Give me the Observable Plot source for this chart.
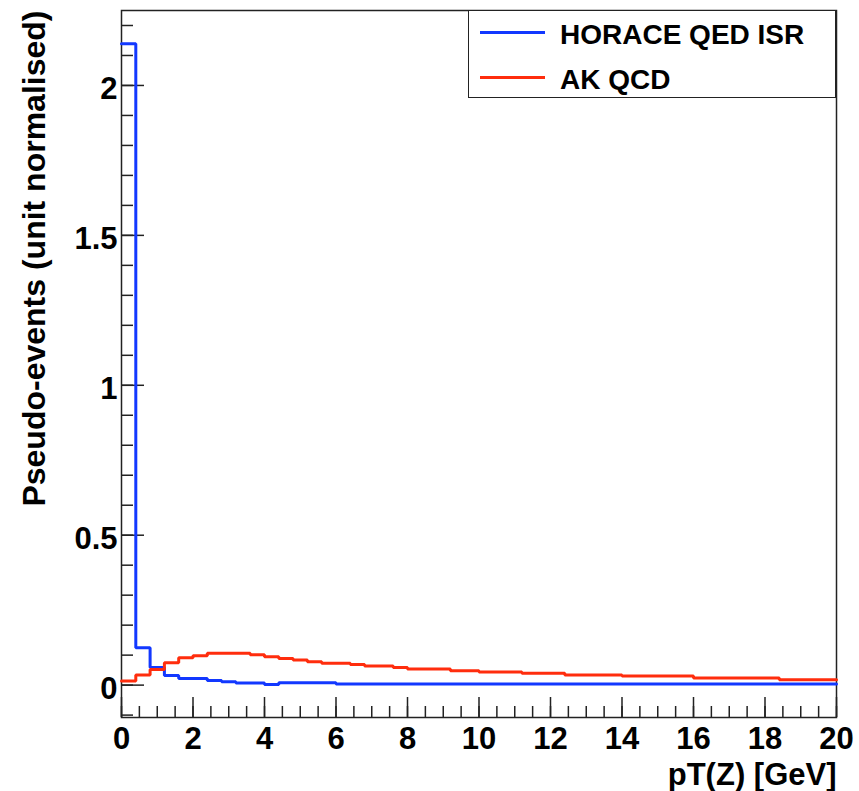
<!DOCTYPE html>
<html>
<head>
<meta charset="utf-8">
<script src="https://cdn.jsdelivr.net/npm/d3@7"></script>
<script src="https://cdn.jsdelivr.net/npm/@observablehq/plot@0.6"></script>
<style>
  html, body { margin: 0; padding: 0; background: #fff; }
  #wrap { position: relative; width: 859px; height: 791px; font-family: "Liberation Sans", Arial, sans-serif; font-weight: bold; }
  #legend { position: absolute; left: 468px; top: 10px; width: 368px; height: 88px; box-sizing: border-box; border: 1.5px solid #222; background: #fff; }
  .item { position: absolute; left: 0; height: 40px; display: flex; align-items: center; font-size: 28px; color: #000; white-space: nowrap; }
  .swatch { width: 65px; height: 3px; margin-left: 11px; margin-right: 15px; position: relative; top: -3px; }
</style>
</head>
<body>
<div id="wrap"></div>
<script>
// Bin edges (GeV), 50 bins of 0.4 GeV
const binEdges = [0, 0.4, 0.8, 1.2, 1.6, 2.0, 2.4, 2.8, 3.2, 3.6, 4.0, 4.4, 4.8, 5.2, 5.6, 6.0, 6.4, 6.8, 7.2, 7.6,
  8.0, 8.4, 8.8, 9.2, 9.6, 10.0, 10.4, 10.8, 11.2, 11.6, 12.0, 12.4, 12.8, 13.2, 13.6, 14.0, 14.4, 14.8, 15.2, 15.6,
  16.0, 16.4, 16.8, 17.2, 17.6, 18.0, 18.4, 18.8, 19.2, 19.6, 20.0];

// HORACE QED ISR bin contents
const horaceQedIsr = [2.139, 0.125, 0.059, 0.032, 0.022, 0.022, 0.015, 0.011, 0.007, 0.007,
  0.002, 0.0075, 0.0075, 0.0075, 0.0075, 0.004, 0.004, 0.004, 0.004, 0.004,
  0.004, 0.004, 0.004, 0.004, 0.004, 0.004, 0.004, 0.004, 0.004, 0.004,
  0.004, 0.004, 0.004, 0.004, 0.004, 0.004, 0.004, 0.004, 0.004, 0.004,
  0.004, 0.004, 0.004, 0.004, 0.004, 0.004, 0.004, 0.004, 0.004, 0.004];

// AK QCD bin contents
const akQcd = [0.014, 0.034, 0.052, 0.075, 0.091, 0.098, 0.106, 0.106, 0.106, 0.101,
  0.095, 0.089, 0.084, 0.078, 0.073, 0.073, 0.069, 0.064, 0.064, 0.059,
  0.054, 0.054, 0.054, 0.048, 0.048, 0.044, 0.044, 0.044, 0.040, 0.040,
  0.040, 0.034, 0.034, 0.034, 0.034, 0.030, 0.030, 0.030, 0.030, 0.030,
  0.024, 0.024, 0.024, 0.024, 0.024, 0.024, 0.018, 0.018, 0.018, 0.018];

const seriesNames = ["HORACE QED ISR", "AK QCD"];
const seriesColors = ["#1238ff", "#ff2d0d"];

const xTicks = [0, 2, 4, 6, 8, 10, 12, 14, 16, 18, 20];
const yTicks = [0, 0.5, 1, 1.5, 2];
const xMinorTicks = d3.range(0, 20.001, 0.5);
const yMinorTicks = d3.range(-1, 23).map(i => i / 10);

const xTitle = "pT(Z) [GeV]";
const yTitle = "Pseudo-events (unit normalised)";

function histRows(values, name) {
  const rows = values.map((v, i) => ({x: binEdges[i], y: v, series: name}));
  rows.push({x: binEdges[values.length], y: values[values.length - 1], series: name});
  return rows;
}
const rowsA = histRows(horaceQedIsr, seriesNames[0]);
const rowsB = histRows(akQcd, seriesNames[1]);

const axisColor = "#222";

const chart = Plot.plot({
  width: 859,
  height: 791,
  marginTop: 10,
  marginRight: 23,
  marginBottom: 74,
  marginLeft: 121,
  style: {fontFamily: "'Liberation Sans', Arial, sans-serif", fontSize: "31px", fontWeight: "bold", background: "#fff", color: "#000", overflow: "visible"},
  x: {domain: [0, 20]},
  y: {domain: [-0.108, 2.25]},
  marks: [
    Plot.frame({stroke: axisColor, strokeWidth: 1.5}),
    Plot.tickX(xMinorTicks, {x: d => d, insetTop: 696, stroke: axisColor, strokeWidth: 1.5}),
    Plot.tickX(xTicks, {x: d => d, insetTop: 687, stroke: axisColor, strokeWidth: 1.5}),
    Plot.tickY(yMinorTicks, {y: d => d, insetRight: 703, stroke: axisColor, strokeWidth: 1.5}),
    Plot.tickY(yTicks, {y: d => d, insetRight: 692, stroke: axisColor, strokeWidth: 1.5}),
    Plot.axisX(xTicks, {anchor: "bottom", tickSize: 0, tickPadding: 9, label: null, tickFormat: d => String(d)}),
    Plot.axisY(yTicks, {anchor: "left", tickSize: 0, tickPadding: 4, dy: 4, label: null, tickFormat: d => String(d)}),
    Plot.line(rowsA, {x: "x", y: "y", curve: "step-after", stroke: seriesColors[0], strokeWidth: 3, strokeLinejoin: "miter"}),
    Plot.line(rowsB, {x: "x", y: "y", curve: "step-after", stroke: seriesColors[1], strokeWidth: 3, strokeLinejoin: "miter"}),
    Plot.text([xTitle], {frameAnchor: "bottom-right", textAnchor: "end", lineAnchor: "bottom", dy: 67, fontSize: 31, fontWeight: "bold"}),
    Plot.text([yTitle], {frameAnchor: "top-left", rotate: -90, textAnchor: "end", lineAnchor: "bottom", dx: -77, dy: 0, fontSize: 32, fontWeight: "bold"})
  ]
});

const wrap = document.getElementById("wrap");
wrap.appendChild(chart);

// Legend (top-right, inside frame)
const legend = document.createElement("div");
legend.id = "legend";
const rowCenters = [24, 69];
seriesNames.forEach((name, i) => {
  const item = document.createElement("div");
  item.className = "item";
  item.style.top = (rowCenters[i] - 20) + "px";
  const sw = document.createElement("span");
  sw.className = "swatch";
  sw.style.background = seriesColors[i];
  const tx = document.createElement("span");
  tx.textContent = name;
  item.appendChild(sw);
  item.appendChild(tx);
  legend.appendChild(item);
});
wrap.appendChild(legend);
</script>
</body>
</html>
